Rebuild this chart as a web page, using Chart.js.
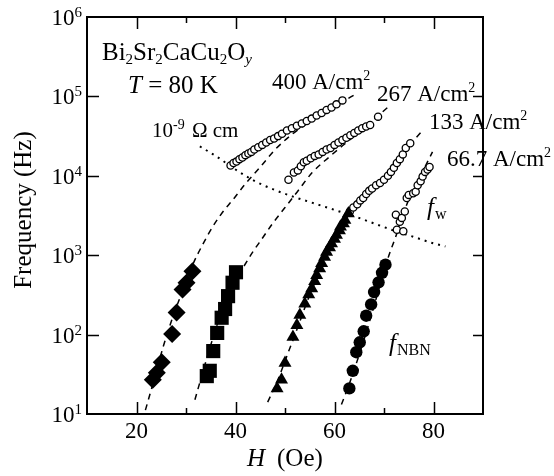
<!DOCTYPE html>
<html>
<head>
<meta charset="utf-8">
<script src="https://cdn.jsdelivr.net/npm/chart.js@4"></script>
<style>
  html, body { margin: 0; padding: 0; background: #fff; }
</style>
</head>
<body>
<canvas id="myChart" width="554" height="476"></canvas>
<script>
// values: H in Oe, frequency in Hz

// low field points (f_NBN), one array per current density
const diamondH = [23.3, 24.1, 25.1, 27.2, 28.1, 29.3, 30.1, 31.3];
const diamondF = [27, 33, 45, 102, 190, 370, 450, 630];
const squareH = [34.2, 34.8, 35.5, 36.3, 37.2, 37.9, 38.5, 39.4, 40.1];
const squareF = [30, 35, 62, 105, 163, 210, 305, 450, 610];
const triangleH = [48.4, 49.3, 50.0, 51.6, 52.4, 53.0, 54.0, 54.8, 55.4, 56.0, 56.4, 57.0, 57.4, 58.0, 58.4, 59.0, 59.4, 60.0, 60.4, 61.0, 61.2, 61.8, 62.1, 62.8];
const triangleF = [21, 27, 44, 93, 131, 176, 245, 320, 380, 470, 560, 680, 790, 950, 1100, 1250, 1400, 1600, 1790, 2050, 2280, 2500, 2770, 3360];
const dotH = [63.0, 63.7, 64.4, 65.1, 65.9, 66.4, 67.4, 68.0, 68.9, 69.6, 70.3];
const dotF = [21, 35, 60, 80, 110, 173, 240, 343, 455, 600, 760];

// high field points (f_w), open circles
const open400H = [39.0, 39.6, 40.2, 40.8, 41.4, 42.0, 42.6, 43.2, 43.8, 44.6, 45.4, 46.2, 47.0, 47.8, 48.6, 49.4, 50.4, 51.4, 52.4, 53.4, 54.4, 55.4, 56.4, 57.4, 58.4, 59.4, 60.4, 61.6];
const open400F = [13500, 14500, 15100, 16200, 17000, 18200, 19100, 20000, 21400, 22900, 24500, 26300, 28200, 29500, 31600, 33900, 37200, 39800, 42700, 45700, 49000, 52500, 57500, 61700, 67600, 72400, 79400, 89100];
const open267H = [50.7, 51.8, 52.6, 53.2, 53.8, 54.4, 55.2, 56.0, 56.8, 57.6, 58.4, 59.2, 60.0, 60.8, 61.6, 62.4, 63.2, 64.0, 64.8, 65.6, 66.4, 67.2, 68.8];
const open267F = [8900, 11000, 11700, 13200, 14800, 15500, 16600, 17800, 18600, 20000, 21400, 22400, 24500, 26300, 28200, 30200, 32400, 34700, 37200, 39800, 41700, 43700, 55600];
const open133H = [63.1, 63.8, 64.6, 65.2, 65.8, 66.4, 67.0, 67.6, 68.4, 69.2, 70.0, 70.8, 71.4, 72.0, 72.6, 73.2, 73.8, 74.4, 75.3];
const open133F = [3550, 3980, 4370, 4900, 5250, 5890, 6460, 6920, 7590, 8130, 8910, 10000, 11200, 12600, 14500, 16200, 18600, 22400, 25700];
const open67H = [72.6, 73.2, 73.9, 72.4, 73.6, 74.2, 74.6, 75.0, 75.9, 76.4, 76.8, 77.4, 77.8, 78.3, 78.8, 79.2];
const open67F = [2090, 2630, 2000, 3240, 2950, 3550, 5250, 5750, 6030, 6310, 7590, 8510, 9770, 11200, 12000, 12900];

// dashed guide curves
const fit400H = [21.8, 23.5, 25.5, 27.5, 29.5, 31.5, 33.5, 35.5, 37.5, 39.5, 42, 45, 48, 52, 56, 60, 64.6];
const fit400F = [11.2, 26.3, 74.1, 178, 380, 794, 1410, 2340, 3550, 5010, 7940, 12900, 21400, 35500, 52500, 74100, 110000];
const fit267H = [31.8, 33.5, 35.5, 37.5, 39.5, 41.5, 43.5, 45.5, 47.5, 50, 52.5, 55.5, 59, 63, 67, 70.9];
const fit267F = [15.1, 35.5, 93.3, 219, 417, 692, 1100, 1660, 2510, 3980, 6310, 11000, 17400, 28200, 45700, 74100];
const fit133H = [46.5, 48.5, 50.5, 52.5, 54.5, 56.5, 58.5, 60.5, 62.5, 64.5, 66.5, 68.5, 70.5, 72.5, 74.5, 76.5, 77.9];
const fit133F = [14.1, 26.3, 56.2, 120, 263, 525, 1000, 1780, 2950, 4470, 6170, 7940, 10000, 13800, 20900, 30200, 38000];
const fit67H = [61.4, 63, 65, 67, 69, 71, 72.3, 73.5, 75, 76.5, 78, 79.8];
const fit67F = [13.2, 24, 56.2, 141, 380, 1000, 1660, 2820, 5010, 7940, 12000, 20000];

// dotted 10^-9 ohm cm line
const resH = [32.8, 36, 40, 44, 48, 52, 56, 60, 64, 68, 72, 76, 80, 82.4];
const resF = [23400, 17800, 12000, 8510, 6610, 5370, 4470, 3720, 3090, 2510, 2040, 1700, 1410, 1290];

// axis ticks
const xMajor = [20, 40, 60, 80];
const xMinor = [30, 50, 70];
const yDecades = [1, 2, 3, 4, 5, 6];

const SERIF = '"Liberation Serif", serif';

function pts(xs, ys) {
  return xs.map((x, i) => ({ x: x, y: ys[i] }));
}

function markers(xs, ys, style, radius, filled) {
  return {
    data: pts(xs, ys),
    pointStyle: style,
    pointRadius: radius,
    backgroundColor: filled ? "#000" : "#fff",
    borderColor: "#000",
    borderWidth: filled ? 0 : 1.3,
    showLine: false,
  };
}

function curve(xs, ys, dash, width) {
  return {
    data: pts(xs, ys),
    showLine: true,
    pointRadius: 0,
    borderColor: "#000",
    borderWidth: width,
    borderDash: dash,
    cubicInterpolationMode: "monotone",
    fill: false,
  };
}

// draws a list of text runs left to right, returns end x
function runs(ctx, x, y, list) {
  list.forEach((r) => {
    ctx.font = (r.i ? "italic " : "") + r.s + "px " + SERIF;
    ctx.fillText(r.t, x, y + (r.dy || 0));
    x += ctx.measureText(r.t).width + (r.gap || 0);
  });
  return x;
}

const framePlugin = {
  id: "frame",
  afterDraw(chart) {
    const ctx = chart.ctx;
    const a = chart.chartArea;
    const xs = chart.scales.x;
    const ys = chart.scales.y;
    ctx.save();
    ctx.strokeStyle = "#000";
    ctx.fillStyle = "#000";
    ctx.lineWidth = 2;
    ctx.strokeRect(a.left, a.top, a.right - a.left, a.bottom - a.top);

    // inward ticks
    ctx.lineWidth = 1.5;
    ctx.beginPath();
    xMajor.concat(xMinor).forEach((v) => {
      const px = Math.round(xs.getPixelForValue(v)) + 0.5;
      const len = xMajor.includes(v) ? 12 : 6;
      ctx.moveTo(px, a.bottom); ctx.lineTo(px, a.bottom - len);
      ctx.moveTo(px, a.top); ctx.lineTo(px, a.top + len);
    });
    yDecades.slice(1, -1).forEach((d) => {
      const py = Math.round(ys.getPixelForValue(Math.pow(10, d))) + 0.5;
      ctx.moveTo(a.left, py); ctx.lineTo(a.left + 12, py);
      ctx.moveTo(a.right, py); ctx.lineTo(a.right - 10, py);
    });
    ctx.stroke();

    // tick labels
    ctx.textBaseline = "alphabetic";
    ctx.textAlign = "center";
    ctx.font = "23px " + SERIF;
    xMajor.forEach((v) => {
      ctx.fillText(String(v), xs.getPixelForValue(v), 438);
    });
    ctx.textAlign = "left";
    yDecades.forEach((d) => {
      const py = ys.getPixelForValue(Math.pow(10, d));
      ctx.font = "15px " + SERIF;
      const sw = ctx.measureText(String(d)).width;
      ctx.font = "23px " + SERIF;
      const bw = ctx.measureText("10").width;
      const x0 = 82 - sw - bw;
      runs(ctx, x0, py + 8, [
        { t: "10", s: 23 },
        { t: String(d), s: 15, dy: -8 },
      ]);
    });

    // axis titles
    runs(ctx, 247, 466, [{ t: "H", s: 25, i: true }]);
    runs(ctx, 277, 466, [{ t: "(Oe)", s: 25 }]);
    ctx.save();
    ctx.translate(31, 210);
    ctx.rotate(-Math.PI / 2);
    ctx.textAlign = "center";
    ctx.font = "25px " + SERIF;
    ctx.fillText("Frequency (Hz)", 0, 0);
    ctx.restore();

    // annotations
    ctx.textAlign = "left";
    runs(ctx, 102, 60, [
      { t: "Bi", s: 25 }, { t: "2", s: 15, dy: 4 },
      { t: "Sr", s: 25 }, { t: "2", s: 15, dy: 4 },
      { t: "CaCu", s: 25 }, { t: "2", s: 15, dy: 4 },
      { t: "O", s: 25 }, { t: "y", s: 15, dy: 4, i: true },
    ]);
    runs(ctx, 128, 93, [{ t: "T", s: 25, i: true }, { t: " = 80 K", s: 25 }]);
    runs(ctx, 152, 137, [
      { t: "10", s: 21 }, { t: "-9", s: 14, dy: -8, gap: 2 },
      { t: " \u03a9 cm", s: 21 },
    ]);
    const cur = [["400", 272, 89], ["267", 377, 101], ["133", 429, 129], ["66.7", 447, 166]];
    cur.forEach((c) => {
      runs(ctx, c[1], c[2], [
        { t: c[0] + " A/cm", s: 23 }, { t: "2", s: 14, dy: -9 },
      ]);
    });
    runs(ctx, 427, 215, [{ t: "f", s: 25, i: true, gap: 1 }, { t: "w", s: 16, dy: 4 }]);
    runs(ctx, 389, 351, [{ t: "f", s: 25, i: true, gap: 1 }, { t: "NBN", s: 16, dy: 4 }]);
    ctx.restore();
  },
};

const data = {
  datasets: [
    markers(diamondH, diamondF, "rectRot", 9, true),
    markers(squareH, squareF, "rect", 10, true),
    markers(triangleH, triangleF, "triangle", 7.5, true),
    markers(dotH, dotF, "circle", 6.2, true),
    markers(open400H, open400F, "circle", 3.6, false),
    markers(open267H, open267F, "circle", 3.6, false),
    markers(open133H, open133F, "circle", 3.6, false),
    markers(open67H, open67F, "circle", 3.6, false),
    curve(fit400H, fit400F, [6, 5], 1.5),
    curve(fit267H, fit267F, [6, 5], 1.5),
    curve(fit133H, fit133F, [6, 5], 1.5),
    curve(fit67H, fit67F, [6, 5], 1.5),
    curve(resH, resF, [2, 5], 2),
  ],
};

const config = {
  type: "scatter",
  data: data,
  options: {
    responsive: false,
    animation: false,
    layout: { padding: { left: 87, right: 71, top: 17, bottom: 62 } },
    plugins: {
      legend: { display: false },
      tooltip: { enabled: false },
    },
    scales: {
      x: { type: "linear", min: 10, max: 90, display: false },
      y: { type: "logarithmic", min: 10, max: 1000000, display: false },
    },
  },
  plugins: [framePlugin],
};

const myChart = new Chart(document.getElementById("myChart"), config);
</script>
</body>
</html>
